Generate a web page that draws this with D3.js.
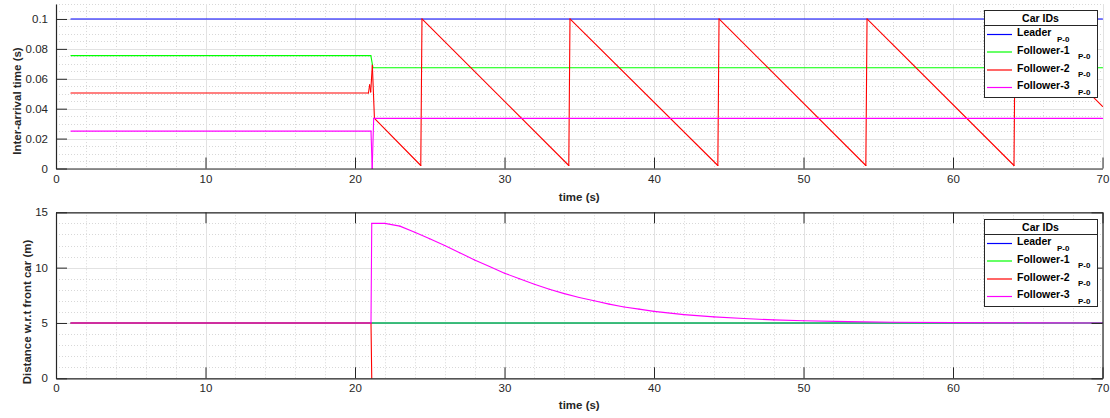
<!DOCTYPE html>
<html><head><meta charset="utf-8">
<script src="https://cdn.jsdelivr.net/npm/d3@7"></script>
<style>body{margin:0;background:#fff} text{font-family:"Liberation Sans",Arial,Helvetica,sans-serif}</style>
</head><body><svg id="c" width="1110" height="418"></svg>
<script>
// ---------- data ----------
const xTicks = [0, 10, 20, 30, 40, 50, 60, 70];
const xMinorStep = 2;
const topYTicks = [0, 0.02, 0.04, 0.06, 0.08, 0.1];
const topYTickLabels = ["0", "0.02", "0.04", "0.06", "0.08", "0.1"];
const topYMax = 0.11;
const topYMinorStep = 0.005;
const botYTicks = [0, 5, 10, 15];
const botYTickLabels = ["0", "5", "10", "15"];
const botYMax = 15;
const botYMinorStep = 1;
const seriesNames = ["Leader", "Follower-1", "Follower-2", "Follower-3"];
const seriesColors = ["#0000ff", "#00ff00", "#ff0000", "#ff00ff"];
const legendTitle = "Car IDs";
const legendSub = "P-0";
const xLabel = "time (s)";
const topYLabel = "Inter-arrival time (s)";
const botYLabel = "Distance w.r.t front car (m)";

// inter-arrival time (s)
const iatLeader = [[1, 0.1], [70, 0.1]];
const iatFollower1 = [[1, 0.0755], [21.06, 0.0755], [21.2, 0.0674], [70, 0.0674]];
const iatFollower2 = [[1, 0.0505], [20.9, 0.0505], [20.98, 0.056], [21.05, 0.0512], [21.16, 0.069], [21.3, 0.0335],
  [24.4, 0.002], [24.48, 0.1], [34.3, 0.002], [34.38, 0.1], [44.27, 0.002], [44.35, 0.1],
  [54.17, 0.002], [54.25, 0.1], [64.08, 0.002], [64.16, 0.1], [70, 0.0415]];
const iatFollower3 = [[1, 0.025], [21.07, 0.025], [21.15, 0], [21.25, 0.0335], [70, 0.0335]];

// distance w.r.t. front car (m)
const distLeader = [[1, 5], [70, 5]];
const distFollower1 = [[1, 5], [70, 5]];
const distFollower2 = [[1, 5], [21.07, 5], [21.12, 0]];
const distFollower3 = [[1, 5], [21.07, 5], [21.12, 14.0], [22, 14.0], [23, 13.75], [24, 13.2], [25, 12.6],
  [26, 12.0], [27, 11.35], [28, 10.7], [29, 10.1], [30, 9.5], [31, 9.0], [32, 8.5], [33, 8.05],
  [34, 7.65], [35, 7.3], [36, 7.0], [37, 6.7], [38, 6.45], [39, 6.25], [40, 6.05], [42, 5.75],
  [44, 5.55], [46, 5.4], [48, 5.28], [50, 5.2], [53, 5.12], [56, 5.07], [60, 5.03], [65, 5.01], [70, 5.0]];

// ---------- drawing ----------
const svg = d3.select("#c");
const AX = "#262626";
const L = 56, R = 1102.5;

function range(a, b, s) { const out = []; for (let v = a; v <= b + 1e-9; v += s) out.push(+v.toFixed(6)); return out; }

function panel(cfg) {
  const x = d3.scaleLinear().domain([0, 70]).range([L, R]);
  const y = d3.scaleLinear().domain([0, cfg.yMax]).range([cfg.bottom, cfg.top]);
  const g = svg.append("g");

  // minor grid
  const xMinor = range(0, 70, xMinorStep).filter(v => !xTicks.includes(v));
  const yMinor = range(0, cfg.yMax, cfg.yMinorStep).filter(v => !cfg.yTicks.some(t => Math.abs(t - v) < 1e-9));
  g.selectAll(".xmin").data(xMinor).join("line")
    .attr("x1", d => Math.round(x(d)) + 0.5).attr("x2", d => Math.round(x(d)) + 0.5)
    .attr("y1", cfg.top).attr("y2", cfg.bottom)
    .attr("stroke", "#d8d8d8").attr("stroke-dasharray", "1,2");
  g.selectAll(".ymin").data(yMinor).join("line")
    .attr("y1", d => Math.round(y(d)) + 0.5).attr("y2", d => Math.round(y(d)) + 0.5)
    .attr("x1", L).attr("x2", R)
    .attr("stroke", "#d8d8d8").attr("stroke-dasharray", "1,2");
  // major grid
  g.selectAll(".xmaj").data(xTicks).join("line")
    .attr("x1", d => Math.round(x(d)) + 0.5).attr("x2", d => Math.round(x(d)) + 0.5)
    .attr("y1", cfg.top).attr("y2", cfg.bottom).attr("stroke", "#e2e2e2");
  g.selectAll(".ymaj").data(cfg.yTicks).join("line")
    .attr("y1", d => Math.round(y(d)) + 0.5).attr("y2", d => Math.round(y(d)) + 0.5)
    .attr("x1", L).attr("x2", R).attr("stroke", "#e2e2e2");

  // series: each segment drawn as its own line element from the scales
  const lg = g.append("g");
  cfg.series.forEach((s, i) => {
    const segs = d3.pairs(s);
    lg.selectAll(null).data(segs).join("line")
      .attr("x1", d => x(d[0][0])).attr("y1", d => y(d[0][1]))
      .attr("x2", d => x(d[1][0])).attr("y2", d => y(d[1][1]))
      .attr("stroke", seriesColors[i]).attr("stroke-width", 1.1)
      .attr("stroke-linecap", "round");
  });

  // axes
  const fmtY = d => cfg.yLabels[cfg.yTicks.indexOf(d)];
  const xb = d3.axisBottom(x).tickValues(xTicks).tickSizeInner(-11).tickSizeOuter(0).tickPadding(6).tickFormat(d3.format("d"));
  const yl = d3.axisLeft(y).tickValues(cfg.yTicks).tickSizeInner(-11).tickSizeOuter(0).tickPadding(8).tickFormat(fmtY);
  g.append("g").attr("transform", `translate(0,${cfg.bottom})`).call(xb);
  g.append("g").attr("transform", `translate(${L},0)`).call(yl);
  if (cfg.box) {
    const xt = d3.axisTop(x).tickValues(xTicks).tickSizeInner(-11).tickSizeOuter(0).tickFormat("");
    const yr = d3.axisRight(y).tickValues(cfg.yTicks).tickSizeInner(-11).tickSizeOuter(0).tickFormat("");
    g.append("g").attr("transform", `translate(0,${cfg.top})`).call(xt);
    g.append("g").attr("transform", `translate(${R},0)`).call(yr);
  }
  g.selectAll(".domain").attr("stroke", AX).attr("stroke-width", 1.2);
  g.selectAll(".tick line").attr("stroke", AX).attr("stroke-width", 1);
  g.selectAll(".tick text").attr("fill", AX).style("font-size", "11.5px")
    .style("font-family", '"Liberation Sans",Arial,sans-serif');

  // labels
  g.append("text").attr("x", (L + R) / 2).attr("y", cfg.xLabelY).attr("text-anchor", "middle")
    .attr("fill", AX).style("font-size", "11.5px").style("font-weight", "bold").text(xLabel);
  g.append("text").attr("transform", `translate(${cfg.yLabelX},${cfg.yLabelCY}) rotate(-90)`)
    .attr("text-anchor", "middle").attr("dominant-baseline", "middle")
    .attr("fill", AX).style("font-size", "11.5px").style("font-weight", "bold").text(cfg.yLabel);

  // legend
  const bx = 984, by = cfg.legTop, bw = 113, bh = 87;
  const leg = g.append("g");
  leg.append("rect").attr("x", bx + 0.5).attr("y", by + 0.5).attr("width", bw).attr("height", bh)
    .attr("fill", "#fff").attr("stroke", AX).attr("stroke-width", 1);
  leg.append("line").attr("x1", bx).attr("x2", bx + bw).attr("y1", by + 15.5).attr("y2", by + 15.5)
    .attr("stroke", AX);
  leg.append("text").attr("x", bx + bw / 2).attr("y", by + 12).attr("text-anchor", "middle")
    .attr("fill", "#000").style("font-size", "10.5px").style("font-weight", "bold").text(legendTitle);
  const rowY = [24.5, 42, 60, 77.5];
  const subX = [1057, 1078, 1078, 1078];
  seriesNames.forEach((n, i) => {
    const ry = by + rowY[i];
    leg.append("line").attr("x1", 987).attr("x2", 1012).attr("y1", ry).attr("y2", ry)
      .attr("stroke", seriesColors[i]).attr("stroke-width", 1.2);
    leg.append("text").attr("x", 1017).attr("y", ry + 1.5).attr("fill", "#000")
      .style("font-size", "10.5px").style("font-weight", "bold").text(n);
    leg.append("text").attr("x", subX[i]).attr("y", ry + 7).attr("fill", "#000")
      .style("font-size", "8px").style("font-weight", "bold").text(legendSub);
  });
}

panel({ id: 1, top: 4, bottom: 168.5, yMax: topYMax, yTicks: topYTicks, yLabels: topYTickLabels,
  yMinorStep: topYMinorStep, box: false,
  series: [iatLeader, iatFollower1, iatFollower2, iatFollower3],
  xLabelY: 201, yLabel: topYLabel, yLabelX: 18, yLabelCY: 101, legTop: 10 });
panel({ id: 2, top: 212.3, bottom: 378.3, yMax: botYMax, yTicks: botYTicks, yLabels: botYTickLabels,
  yMinorStep: botYMinorStep, box: true,
  series: [distLeader, distFollower1, distFollower2, distFollower3],
  xLabelY: 409, yLabel: botYLabel, yLabelX: 28, yLabelCY: 312, legTop: 219 });
</script></body></html>
